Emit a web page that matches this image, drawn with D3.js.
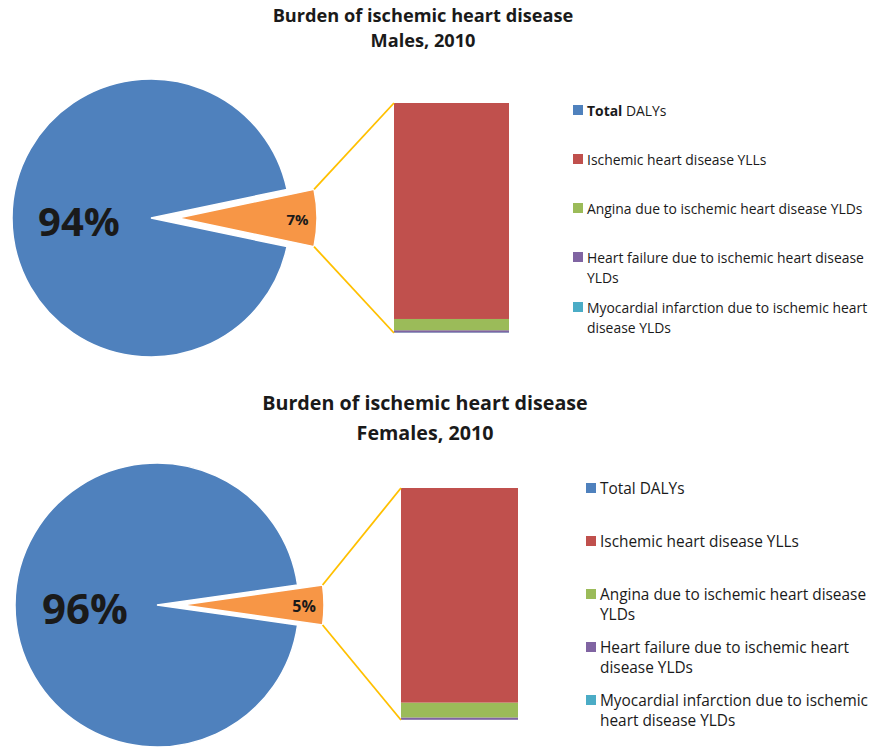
<!DOCTYPE html>
<html>
<head>
<meta charset="utf-8">
<script src="https://cdn.jsdelivr.net/npm/d3@7"></script>
<style>
  body { margin: 0; background: #fff; }
  text { font-family: "Open Sans", sans-serif; fill: #1a1a1a; }
</style>
</head>
<body>
<script>
// Burden of ischemic heart disease, 2010 - pie with exploded slice + breakdown bar
var width = 875;
var height = 749;

// pie: share of total DALYs (%)
var pieNames = ["Total DALYs", "Ischemic heart disease"];
var malePie = [93.4, 6.6];
var femalePie = [95.5, 4.5];
var malePieLabels = ["94%", "7%"];
var femalePieLabels = ["96%", "5%"];

// bar: breakdown of the ischemic heart disease slice (%)
var barNames = ["Ischemic heart disease YLLs", "Angina due to ischemic heart disease YLDs",
  "Heart failure due to ischemic heart disease YLDs", "Myocardial infarction due to ischemic heart disease YLDs"];
var maleBar = [93.9, 4.9, 1.0, 0.2];
var femaleBar = [92.5, 6.4, 1.0, 0.1];

// legend text as wrapped in the original
var maleLegend = ["Total DALYs", "Ischemic heart disease YLLs", "Angina due to ischemic heart disease YLDs",
  "Heart failure due to ischemic heart disease\nYLDs", "Myocardial infarction due to ischemic heart\ndisease YLDs"];
var femaleLegend = ["Total DALYs", "Ischemic heart disease YLLs", "Angina due to ischemic heart disease\nYLDs",
  "Heart failure due to ischemic heart\ndisease YLDs", "Myocardial infarction due to ischemic\nheart disease YLDs"];

var pieColors = ["#4F81BD", "#F79646"];
var barColors = ["#C0504D", "#9BBB59", "#8064A2", "#4BACC6"];
var legendColors = ["#4F81BD", "#C0504D", "#9BBB59", "#8064A2", "#4BACC6"];

var svg = d3.select("body")
  .append("svg")
  .attr("width", width)
  .attr("height", height);

var panels = [
  {
    title: ["Burden of ischemic heart disease", "Males, 2010"], titleX: 423, titleY: [22, 47], titleSize: 18.2,
    pie: malePie, pieLabels: malePieLabels, cx: 151, cy: 218, r: 139, explode: 27,
    bigLabel: {x: 79, y: 220, size: 40}, smallLabel: {size: 15},
    bar: maleBar, barX: [394, 509], barY: [103, 333],
    legend: maleLegend, legendX: 573, legendY: [110, 159, 208, 257, 307], legendSize: 13.9, boldTotal: true
  },
  {
    title: ["Burden of ischemic heart disease", "Females, 2010"], titleX: 425, titleY: [410, 440], titleSize: 19.7,
    pie: femalePie, pieLabels: femalePieLabels, cx: 157, cy: 605, r: 142, explode: 25,
    bigLabel: {x: 85, y: 607, size: 42}, smallLabel: {size: 16},
    bar: femaleBar, barX: [401, 518], barY: [488, 720],
    legend: femaleLegend, legendX: 586, legendY: [488, 541, 594, 647, 700], legendSize: 15.4, boldTotal: false
  }
];

panels.forEach(function(p) {
  var g = svg.append("g");

  // titles
  g.selectAll("text.title")
    .data(p.title)
    .enter()
    .append("text")
      .attr("class", "title")
      .attr("x", p.titleX)
      .attr("y", function(d, i) { return p.titleY[i]; })
      .attr("text-anchor", "middle")
      .style("font-weight", "bold")
      .style("font-size", p.titleSize + "px")
      .text(function(d) { return d; });

  // pie, small slice centred on the right
  var total = d3.sum(p.pie);
  var smallAngle = p.pie[1] / total * 2 * Math.PI;
  var start = Math.PI / 2 + smallAngle / 2;
  var pie = d3.pie().sort(null).startAngle(start).endAngle(start + 2 * Math.PI);
  var arcs = pie(p.pie);
  var arc = d3.arc().innerRadius(0).outerRadius(p.r);

  g.selectAll("path.slice")
    .data(arcs)
    .enter()
    .append("path")
      .attr("class", "slice")
      .attr("d", arc)
      .attr("transform", function(d, i) {
        return "translate(" + (p.cx + (i === 1 ? p.explode : 0)) + "," + p.cy + ")";
      })
      .attr("fill", function(d, i) { return pieColors[i]; })
      .attr("stroke", "#fff")
      .attr("stroke-width", 1.5);

  // labels
  g.append("text")
    .attr("x", p.bigLabel.x)
    .attr("y", p.bigLabel.y)
    .attr("text-anchor", "middle")
    .attr("dominant-baseline", "central")
    .style("font-weight", "bold")
    .style("font-size", p.bigLabel.size + "px")
    .text(p.pieLabels[0]);

  var small = arcs[1];
  var mid = (small.startAngle + small.endAngle) / 2;
  var lr = p.r * 0.86;
  g.append("text")
    .attr("x", p.cx + p.explode + lr * Math.sin(mid))
    .attr("y", p.cy - lr * Math.cos(mid) + 1)
    .attr("text-anchor", "middle")
    .attr("dominant-baseline", "central")
    .style("font-weight", "bold")
    .style("font-size", p.smallLabel.size + "px")
    .text(p.pieLabels[1]);

  // stacked bar, YLLs on top and the small parts at the bottom
  var yScale = d3.scaleLinear().domain([0, 100]).range([p.barY[1], p.barY[0]]);
  var xScale = d3.scaleBand().domain(["bar"]).range(p.barX).padding(0);
  var row = {};
  barNames.forEach(function(n, i) { row[n] = p.bar[i]; });
  var stackOrder = d3.stack().keys(barNames.slice().reverse())([row]);

  g.selectAll("rect.seg")
    .data(stackOrder)
    .enter()
    .append("rect")
      .attr("class", "seg")
      .attr("x", xScale("bar"))
      .attr("width", xScale.bandwidth())
      .attr("y", function(d) { return yScale(d[0][1]); })
      .attr("height", function(d) { return yScale(d[0][0]) - yScale(d[0][1]); })
      .attr("fill", function(d) { return barColors[barNames.indexOf(d.key)]; });

  // connector lines from slice corners to bar
  var ox = p.cx + p.explode;
  var corners = [small.startAngle, small.endAngle].map(function(a) {
    return [ox + p.r * Math.sin(a), p.cy - p.r * Math.cos(a)];
  });
  corners.sort(function(a, b) { return a[1] - b[1]; });
  var ends = [[xScale("bar"), yScale(100)], [xScale("bar"), yScale(0)]];
  g.selectAll("line.conn")
    .data(corners)
    .enter()
    .append("line")
      .attr("class", "conn")
      .attr("x1", function(d) { return d[0]; })
      .attr("y1", function(d) { return d[1]; })
      .attr("x2", function(d, i) { return ends[i][0]; })
      .attr("y2", function(d, i) { return ends[i][1]; })
      .attr("stroke", "#FFC000")
      .attr("stroke-width", 1.8);

  // legend
  var items = g.selectAll("g.leg")
    .data(p.legend)
    .enter()
    .append("g")
      .attr("class", "leg")
      .attr("transform", function(d, i) { return "translate(" + p.legendX + "," + p.legendY[i] + ")"; });

  items.append("rect")
    .attr("x", 0)
    .attr("y", -5)
    .attr("width", 10)
    .attr("height", 10)
    .attr("fill", function(d, i) { return legendColors[i]; });

  items.each(function(d, i) {
    var t = d3.select(this).append("text")
      .attr("x", 14)
      .attr("y", 0)
      .attr("dominant-baseline", "central")
      .style("font-size", p.legendSize + "px");
    d.split("\n").forEach(function(line, j) {
      var ts = t.append("tspan")
        .attr("x", 14)
        .attr("dy", j === 0 ? 0 : 20);
      if (i === 0 && j === 0 && p.boldTotal) {
        ts.append("tspan").style("font-weight", "bold").text("Total");
        ts.append("tspan").text(line.replace("Total", ""));
      } else {
        ts.text(line);
      }
    });
  });
});
</script>
</body>
</html>
